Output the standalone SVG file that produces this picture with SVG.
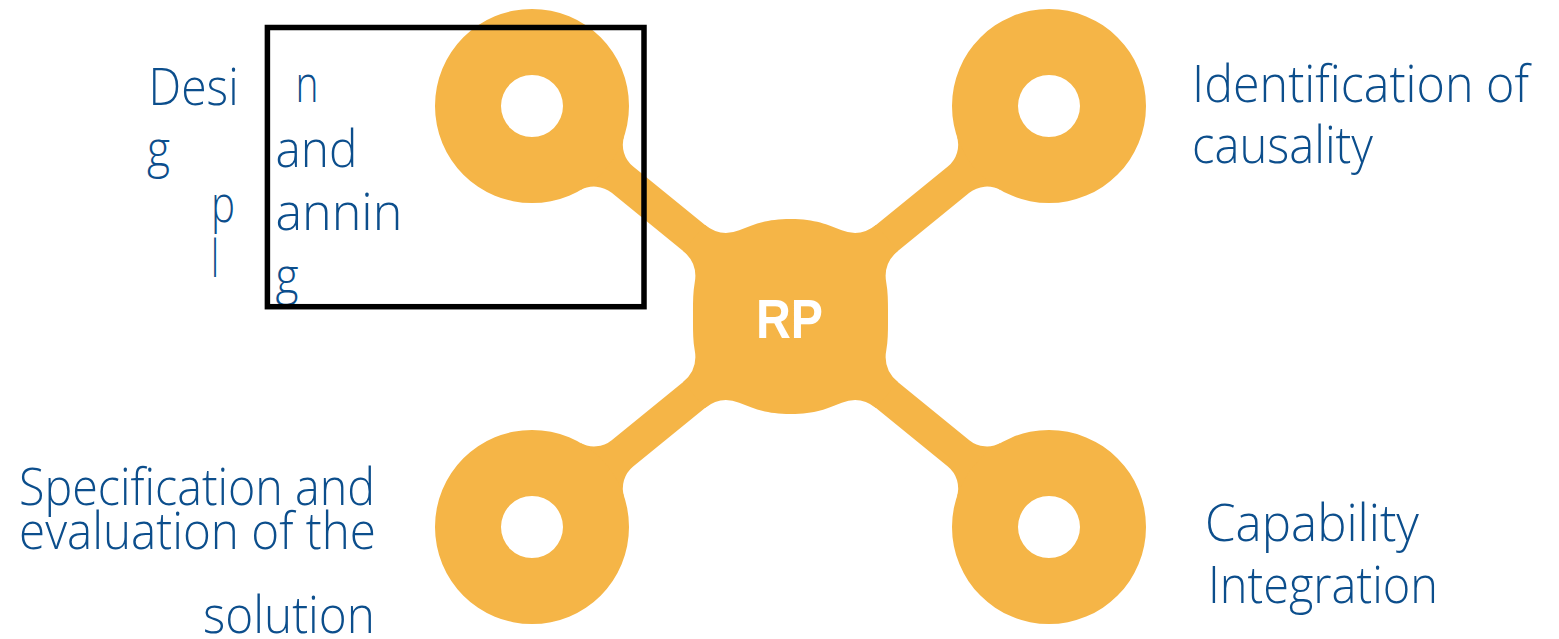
<svg xmlns="http://www.w3.org/2000/svg" width="1559" height="639" viewBox="0 0 1559 639">
  <style>
    .shape { fill: #F5B547; }
    .donut { fill: #F5B547; fill-rule: evenodd; }
    .label { font-family: "Open Sans", "Liberation Sans", sans-serif; font-weight: 300; font-size: 52px; fill: #0C4E8C; }
    .hub-label { font-family: "Liberation Sans", Arial, sans-serif; font-weight: bold; font-size: 56px; fill: #FFFFFF; }
    .frame { fill: none; stroke: #000000; stroke-width: 5.5; }
  </style>

  <rect width="1559" height="639" fill="#FFFFFF"/>

  <!-- arms linking the hub to the four rings, with rounded joins at the ring end -->
  <g id="connectors">
    <path class="shape" d="M754.71 265.43 L633.16 166.46 A28 28 0 0 1 624.22 136.07 L580.13 190.22 A28 28 0 0 1 611.70 192.82 L733.24 291.79 Z"/>
    <path class="shape" d="M826.29 265.43 L947.84 166.46 A28 28 0 0 0 956.78 136.07 L1000.87 190.22 A28 28 0 0 0 969.30 192.82 L847.76 291.79 Z"/>
    <path class="shape" d="M754.71 367.57 L633.16 466.54 A28 28 0 0 0 624.22 496.93 L580.13 442.78 A28 28 0 0 0 611.70 440.18 L733.24 341.21 Z"/>
    <path class="shape" d="M826.29 367.57 L947.84 466.54 A28 28 0 0 1 956.78 496.93 L1000.87 442.78 A28 28 0 0 1 969.30 440.18 L847.76 341.21 Z"/>
  </g>

  <!-- central hub, with rounded joins where the arms meet it -->
  <g id="node-rp">
    <path class="shape" d="M790.5 219
      C765.5 219 753.15 224.82 739.19 230.32
      Q720.58 237.65 705.07 225.02
      L682.85 250.78
      Q698.36 263.41 694.67 283.07
      C692.83 292.9 693 305 693 316.5
      C693 328 692.83 340.1 694.67 349.93
      Q698.36 369.59 682.85 382.22
      L705.07 407.98
      Q720.58 395.35 739.19 402.68
      C753.15 408.18 765.5 414 790.5 414
      C815.5 414 827.85 408.18 841.81 402.68
      Q860.42 395.35 875.93 407.98
      L898.15 382.22
      Q882.64 369.59 886.33 349.93
      C888.17 340.1 888 328 888 316.5
      C888 305 888.17 292.9 886.33 283.07
      Q882.64 263.41 898.15 250.78
      L875.93 225.02
      Q860.42 237.65 841.81 230.32
      C827.85 224.82 815.5 219 790.5 219 Z"/>
    <text class="hub-label" x="789.5" y="338" text-anchor="middle" textLength="67" lengthAdjust="spacingAndGlyphs">RP</text>
  </g>

  <!-- top-left ring: design and planning -->
  <g id="node-design-planning">
    <path class="donut" d="M435 106 A97 97 0 1 0 629 106 A97 97 0 1 0 435 106 Z M501 106 A31 31 0 1 1 563 106 A31 31 0 1 1 501 106 Z"/>
    <text class="label" x="148.6" y="105" textLength="90" lengthAdjust="spacingAndGlyphs">Desi</text>
    <text class="label" x="295.6" y="102" textLength="23" lengthAdjust="spacingAndGlyphs">n</text>
    <text class="label" x="147" y="167" textLength="23" lengthAdjust="spacingAndGlyphs">g</text>
    <text class="label" x="275.4" y="167" textLength="82" lengthAdjust="spacingAndGlyphs">and</text>
    <text class="label" x="211" y="222" textLength="24" lengthAdjust="spacingAndGlyphs">p</text>
    <text class="label" x="275.4" y="230" textLength="127" lengthAdjust="spacingAndGlyphs">annin</text>
    <text class="label" x="211" y="277" textLength="8" lengthAdjust="spacingAndGlyphs">l</text>
    <text class="label" x="275.4" y="293.5" textLength="23" lengthAdjust="spacingAndGlyphs">g</text>
  </g>

  <!-- top-right ring: identification of causality -->
  <g id="node-causality">
    <path class="donut" d="M952 106 A97 97 0 1 0 1146 106 A97 97 0 1 0 952 106 Z M1018 106 A31 31 0 1 1 1080 106 A31 31 0 1 1 1018 106 Z"/>
    <text class="label" x="1192" y="102" textLength="337" lengthAdjust="spacingAndGlyphs">Identification of</text>
    <text class="label" x="1192" y="163" textLength="181" lengthAdjust="spacingAndGlyphs">causality</text>
  </g>

  <!-- bottom-left ring: specification and evaluation -->
  <g id="node-specification">
    <path class="donut" d="M435 527 A97 97 0 1 0 629 527 A97 97 0 1 0 435 527 Z M501 527 A31 31 0 1 1 563 527 A31 31 0 1 1 501 527 Z"/>
    <text class="label" x="19" y="505" textLength="356" lengthAdjust="spacingAndGlyphs">Specification and</text>
    <text class="label" x="19" y="549" textLength="357" lengthAdjust="spacingAndGlyphs">evaluation of the</text>
    <text class="label" x="203" y="633" textLength="172" lengthAdjust="spacingAndGlyphs">solution</text>
  </g>

  <!-- bottom-right ring: capability integration -->
  <g id="node-capability">
    <path class="donut" d="M952 527 A97 97 0 1 0 1146 527 A97 97 0 1 0 952 527 Z M1018 527 A31 31 0 1 1 1080 527 A31 31 0 1 1 1018 527 Z"/>
    <text class="label" x="1205" y="541" textLength="214" lengthAdjust="spacingAndGlyphs">Capability</text>
    <text class="label" x="1208" y="603" textLength="230" lengthAdjust="spacingAndGlyphs">Integration</text>
  </g>

  <!-- outline drawn over the top-left area -->
  <g id="frame">
    <rect class="frame" x="267.4" y="27.5" width="376.6" height="279.2"/>
  </g>
</svg>
